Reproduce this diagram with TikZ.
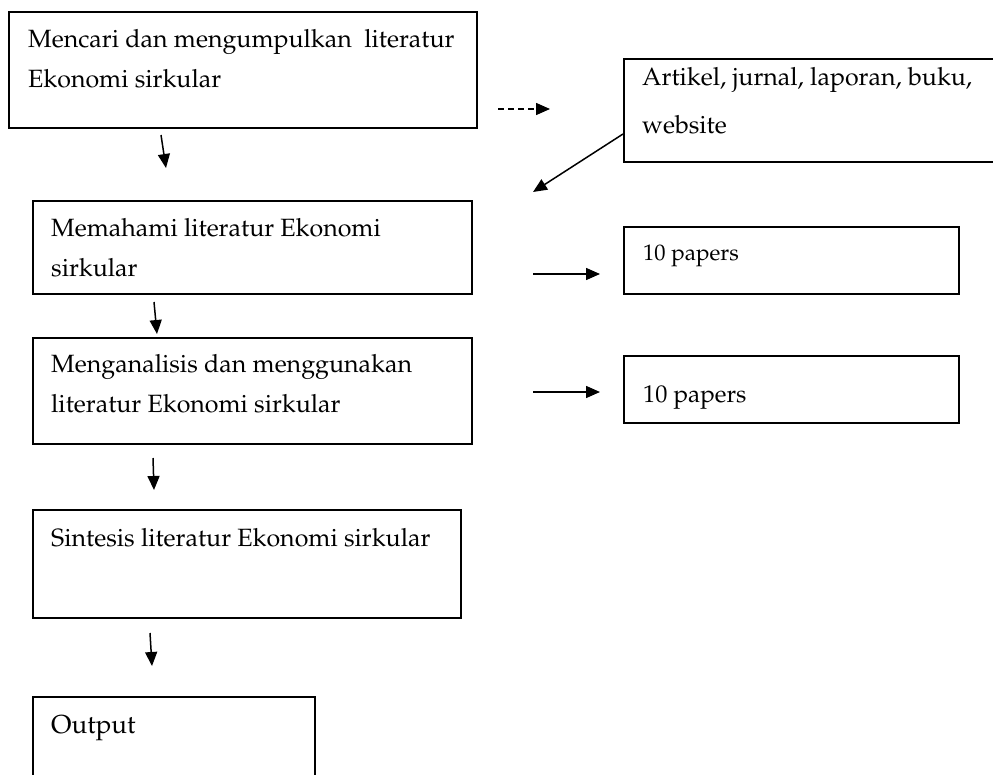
\documentclass[tikz,border=0pt]{standalone}
\usepackage[T1]{fontenc}
\renewcommand{\rmdefault}{ppl}
\usetikzlibrary{arrows.meta}
\tikzset{
  boxnode/.style={draw, line width=1.8pt, inner sep=0pt, anchor=north west},
  txt/.style={anchor=base west, inner sep=0pt, font=\fontsize{25}{40}\selectfont},
  arr/.style={line width=1.5pt, -{Triangle[length=14pt,width=12pt]}},
}
\begin{document}
\begin{tikzpicture}[x=1pt,y=-1pt]
\useasboundingbox (0,0) rectangle (993,774);
\clip (0,0) rectangle (993,774);
% boxes
\node[boxnode, minimum width=468pt, minimum height=116pt] (b1) at (8,11) {};
\node[boxnode, minimum width=400pt, minimum height=103pt] (b2) at (623,58) {};
\node[boxnode, minimum width=439pt, minimum height=93pt] (b3) at (32,200) {};
\node[boxnode, minimum width=335pt, minimum height=67pt] (p1) at (623,226) {};
\node[boxnode, minimum width=439pt, minimum height=106pt] (b4) at (32,337) {};
\node[boxnode, minimum width=335pt, minimum height=67pt] (p2) at (623,355) {};
\node[boxnode, minimum width=428pt, minimum height=108pt] (b5) at (32,509) {};
\node[boxnode, minimum width=282pt, minimum height=110pt] (b6) at (32,696) {};
% texts
\node[txt] (t1) at (28,47) {\begin{tabular}[t]{@{}l@{}}Mencari dan mengumpulkan\ \ literatur\\Ekonomi sirkular\end{tabular}};
\node[txt, font=\fontsize{25}{48}\selectfont] (t2) at (642,85) {\begin{tabular}[t]{@{}l@{}}Artikel, jurnal, laporan, buku,\\website\end{tabular}};
\node[txt] (t3) at (51,236) {\begin{tabular}[t]{@{}l@{}}Memahami literatur Ekonomi\\sirkular\end{tabular}};
\node[txt, font=\fontsize{22.5}{40}\selectfont] (tp1) at (643,260) {10 papers};
\node[txt] (t4) at (51,372) {\begin{tabular}[t]{@{}l@{}}Menganalisis dan menggunakan\\literatur Ekonomi sirkular\end{tabular}};
\node[txt, font=\fontsize{24.3}{40}\selectfont] (tp2) at (643,402) {10 papers};
\node[txt] (t5) at (51,546) {Sintesis literatur Ekonomi sirkular};
\node[txt, font=\fontsize{26}{40}\selectfont] (t6) at (51,733) {Output};
% connector end points
\coordinate (d1s) at (498,109);
\coordinate (d1e) at (550,109);
\coordinate (g1s) at (623,134);
\coordinate (g1e) at (533,192);
\coordinate (a1s) at (161,135);
\coordinate (a1e) at (166,168);
\coordinate (a2s) at (154,302);
\coordinate (a2e) at (157,334);
\coordinate (a3s) at (153,458);
\coordinate (a3e) at (154,490);
\coordinate (a4s) at (150,633);
\coordinate (a4e) at (152,666);
\coordinate (h1s) at (533,274);
\coordinate (h1e) at (600,274);
\coordinate (h2s) at (533,392);
\coordinate (h2e) at (600,392);
% connectors
\draw[arr, dash pattern=on 6pt off 4pt] (d1s) -- (d1e);
\draw[arr] (g1s) -- (g1e);
\draw[arr] (a1s) -- (a1e);
\draw[arr] (a2s) -- (a2e);
\draw[arr] (a3s) -- (a3e);
\draw[arr] (a4s) -- (a4e);
\draw[arr] (h1s) -- (h1e);
\draw[arr] (h2s) -- (h2e);
\end{tikzpicture}
\end{document}
